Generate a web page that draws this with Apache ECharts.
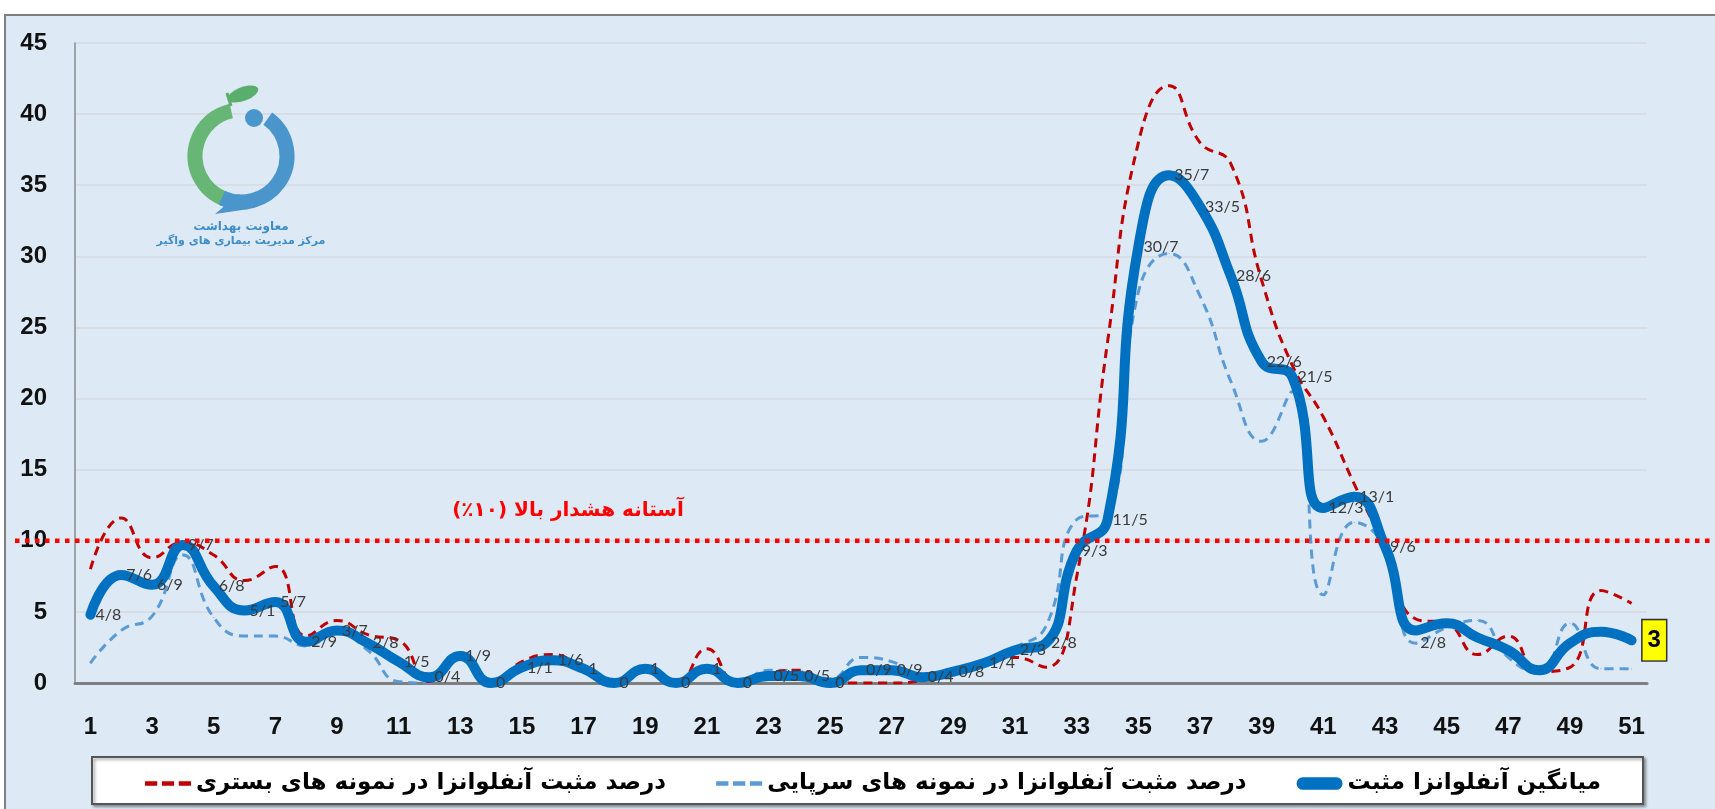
<!DOCTYPE html>
<html>
<head>
<meta charset="utf-8">
<script src="https://cdn.jsdelivr.net/npm/echarts@6/dist/echarts.min.js"></script>
<style>
  html, body { margin: 0; padding: 0; background: #fff; }
  #chart { width: 1715px; height: 809px; }
</style>
</head>
<body>
<div id="chart"></div>
<script>
// weeks 1..51
const weeks = ['1','2','3','4','5','6','7','8','9','10','11','12','13','14','15','16','17','18','19','20',
  '21','22','23','24','25','26','27','28','29','30','31','32','33','34','35','36','37','38','39','40',
  '41','42','43','44','45','46','47','48','49','50','51'];

// میانگین آنفلوانزا مثبت
const meanPositive = [4.8, 7.6, 6.9, 9.7, 6.8, 5.1, 5.7, 2.9, 3.7, 2.8,
  1.5, 0.4, 1.9, 0, 1.1, 1.6, 1, 0, 1, 0,
  1, 0, 0.5, 0.5, 0, 0.9, 0.9, 0.4, 0.8, 1.4,
  2.3, 2.8, 9.3, 11.5, 30.7, 35.7, 33.5, 28.6, 22.6, 21.5,
  12.3, 13.1, 9.6, 3.7, 4.2, 3.2, 2.3, 0.9, 2.8, 3.6,
  3];

// درصد مثبت در نمونه های سرپایی
const outpatient = [1.4, 3.7, 4.7, 9.0, 4.6, 3.3, 3.3, 2.6, 3.5, 2.3,
  0.1, 0, 1.9, 0, 1.1, 1.6, 0.8, 0, 0.8, 0,
  0.8, 0, 0.9, 0.8, 0.3, 1.8, 1.5, 0.5, 0.8, 1.5,
  2.5, 4.0, 11.5, 12, 27.5, 30.2, 27.2, 21.2, 17.0, 20.5,
  6.2, 11.3, 9.5, 2.8, 3.9, 4.4, 1.8, 0.7, 4.2, 1.0,
  1.0];

// درصد مثبت در نمونه های بستری
const inpatient = [8.0, 11.6, 8.8, 9.9, 9.0, 7.2, 8.2, 3.3, 4.4, 3.4,
  3.0, 0.1, 1.9, 0, 1.5, 2.0, 1.0, 0, 0.9, 0,
  2.4, 0, 0.7, 0.9, 0, 0, 0, 0.2, 0.8, 1.4,
  1.8, 1.1, 7.5, 24, 38, 42, 38, 36.5, 28.3, 22.3,
  18.7, 14, 9.5, 4.5, 4.2, 2.0, 3.3, 0.8, 1.1, 6.5,
  5.6];

const threshold = 10;
const yMax = 45;
const yStep = 5;

const meanName = 'میانگین آنفلوانزا مثبت';
const outName = 'درصد مثبت آنفلوانزا در نمونه های سرپایی';
const inName = 'درصد مثبت آنفلوانزا در نمونه های بستری';
const thresholdText = '\u200Fآستانه هشدار بالا (۱۰٪)\u200F';

const lastIdx = meanPositive.length - 1;
const fmt = v => String(v).replace('.', '/');

const dashIcon = 'path://M0,0H8V3H0Z M11,0H19V3H11Z M22,0H30V3H22Z';
const barIcon = 'path://M4.5,0H28.5A4.5,4.5 0 0 1 28.5,9H4.5A4.5,4.5 0 0 1 4.5,0Z';

const chart = echarts.init(document.getElementById('chart'));

const option = {
  animation: false,
  backgroundColor: '#dde9f5',
  grid: { left: 75, right: 68, top: 43, bottom: 126 },
  xAxis: {
    type: 'category',
    data: weeks,
    boundaryGap: true,
    axisLine: { lineStyle: { color: '#7f7f7f', width: 3 } },
    axisTick: { show: false },
    axisLabel: {
      interval: 1, margin: 32,
      fontFamily: 'Liberation Sans', fontWeight: 'bold', fontSize: 24, color: '#111'
    }
  },
  yAxis: {
    type: 'value', min: 0, max: yMax, interval: yStep,
    axisLine: { show: true, lineStyle: { color: '#8c8c8c', width: 1.5 } },
    axisTick: { show: false },
    splitLine: { lineStyle: { color: '#d5d8de', width: 1.5 } },
    axisLabel: {
      margin: 28,
      fontFamily: 'Liberation Sans', fontWeight: 'bold', fontSize: 24, color: '#111'
    }
  },
  legend: {
    data: [
      { name: inName, icon: dashIcon, itemStyle: { color: '#c00000', borderWidth: 0 } },
      { name: outName, icon: dashIcon, itemStyle: { color: '#5b9bd5', borderWidth: 0 } },
      { name: meanName, icon: barIcon, itemStyle: { color: '#0070c0', borderWidth: 0 } }
    ],
    left: 140, top: 767,
    itemGap: 50, itemWidth: 46, itemHeight: 13,
    textStyle: { fontFamily: 'DejaVu Sans', fontWeight: 'bold', fontSize: 23, color: '#000' }
  },
  series: [
    {
      name: outName, type: 'line', data: outpatient, smooth: 0.5,
      symbol: 'circle', symbolSize: 1,
      itemStyle: { color: '#5b9bd5' },
      lineStyle: { color: '#5b9bd5', width: 3, type: [9, 6] },
      label: {
        show: true, position: 'right', distance: 4,
        fontFamily: 'Lato', fontSize: 16, color: '#3a3a3a',
        formatter: p => (p.dataIndex === 43 ? fmt(p.value) : '')
      },
      z: 2
    },
    {
      name: inName, type: 'line', data: inpatient, smooth: 0.5,
      symbol: 'none',
      itemStyle: { color: '#c00000' },
      lineStyle: { color: '#c00000', width: 3, type: [9, 6] },
      z: 3
    },
    {
      name: meanName, type: 'line', smooth: 0.5,
      data: meanPositive.map((v, i) => i === lastIdx ? {
        value: v,
        label: {
          position: 'right', distance: 10,
          backgroundColor: '#ffff00', borderColor: '#333', borderWidth: 1.5,
          padding: [8, 5], fontSize: 24, lineHeight: 24, fontWeight: 'bold',
          fontFamily: 'Liberation Sans', color: '#000'
        }
      } : v),
      symbol: 'circle', symbolSize: 2,
      itemStyle: { color: '#0070c0' },
      lineStyle: { color: '#0070c0', width: 10, cap: 'round', join: 'round' },
      label: {
        show: true, position: 'right', distance: 4,
        fontFamily: 'Lato', fontSize: 16, color: '#3a3a3a',
        formatter: p => (p.dataIndex < 43 || p.dataIndex === lastIdx ? fmt(p.value) : '')
      },
      z: 4
    }
  ]
};

chart.setOption(option);

const yLine = chart.convertToPixel({ yAxisIndex: 0 }, threshold);

chart.setOption({
  graphic: [
    // frame
    { type: 'rect', shape: { x: 0, y: 0, width: 1715, height: 14 }, style: { fill: '#fff' }, z: 10 },
    { type: 'rect', shape: { x: 0, y: 0, width: 4, height: 809 }, style: { fill: '#fff' }, z: 10 },
    { type: 'polyline', shape: { points: [[5, 809], [5, 15], [1715, 15]] }, style: { stroke: '#7f7f7f', lineWidth: 2, fill: null }, z: 10 },
    // legend box
    {
      type: 'rect', shape: { x: 92, y: 757, width: 1551, height: 47 },
      style: { fill: '#fff', stroke: '#555', lineWidth: 2, shadowBlur: 3, shadowOffsetX: 2, shadowOffsetY: 2, shadowColor: 'rgba(0,0,0,0.35)' },
      z: 0
    },
    // threshold line
    {
      type: 'line', shape: { x1: 15, y1: yLine, x2: 1715, y2: yLine },
      style: { stroke: '#ff0000', lineWidth: 4.5, lineDash: [4.5, 5.5] }, z: 20
    },
    {
      type: 'text', x: 568, y: yLine - 30,
      style: { text: thresholdText, fill: '#ff0000', font: 'bold 20px "DejaVu Sans"', align: 'center', verticalAlign: 'middle' },
      z: 20
    },
    // logo
    {
      type: 'group', x: 241, y: 156, z: 5,
      children: [
        { type: 'arc', shape: { cx: 0, cy: 0, r: 46, startAngle: 1.9, endAngle: 4.5, clockwise: true }, style: { stroke: '#67b676', lineWidth: 15, fill: null } },
        { type: 'arc', shape: { cx: 0, cy: 0, r: 46, startAngle: -0.95, endAngle: 2.0, clockwise: true }, style: { stroke: '#4a96cc', lineWidth: 15, fill: null } },
        { type: 'polygon', shape: { points: [[-2, 38], [-26, 58], [8, 53]] }, style: { fill: '#4a96cc' } },
        { type: 'circle', shape: { cx: 13, cy: -38, r: 9 }, style: { fill: '#4a96cc' } },
        { type: 'line', shape: { x1: -10, y1: -50, x2: -14, y2: -63 }, style: { stroke: '#5aae6c', lineWidth: 3 } },
        { type: 'ellipse', x: 2, y: -62, rotation: 0.35, shape: { cx: 0, cy: 0, rx: 16, ry: 7 }, style: { fill: '#5aae6c' } },
        { type: 'text', x: 0, y: 71, style: { text: 'معاونت بهداشت', fill: '#3d8dc8', font: 'bold 12px "DejaVu Sans"', align: 'center', verticalAlign: 'middle' } },
        { type: 'text', x: 0, y: 85, style: { text: 'مرکز مدیریت بیماری های واگیر', fill: '#3d8dc8', font: 'bold 11px "DejaVu Sans"', align: 'center', verticalAlign: 'middle' } }
      ]
    }
  ]
});

window.addEventListener('resize', () => chart.resize());
</script>
</body>
</html>
